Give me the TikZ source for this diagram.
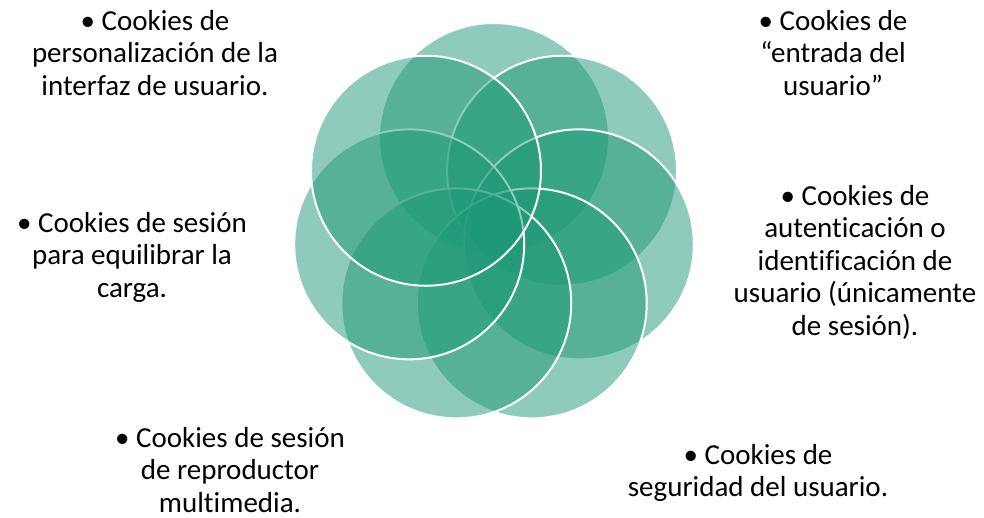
\documentclass[tikz,border=0pt]{standalone}
\usepackage{fontspec}
\setmainfont[Ligatures=NoCommon]{Carlito}
\usetikzlibrary{calc}
\definecolor{petal}{RGB}{30,152,118}
\tikzset{
  petal/.style={circle, minimum size=230pt, inner sep=0pt, fill=petal, fill opacity=0.5, draw=white, draw opacity=1, line width=2pt},
  lbl/.style={align=center, inner sep=0pt, text=black, font=\fontsize{29}{32.5}\selectfont}
}
\begin{document}
\begin{tikzpicture}[x=1pt,y=-1pt]
\useasboundingbox (0,0) rectangle (984,518);
\coordinate (ctr) at (494,225);
\foreach \ang [count=\i] in {90,38.571,-12.857,-64.286,-115.714,-167.143,141.429}{
  \node[petal] (c\i) at ($(ctr)+(\ang:87pt)$) {};
}
\node[lbl] (l1) at (155,53) {• Cookies de\\personalización de la\\interfaz de usuario.};
\node[lbl] (l2) at (833,53) {• Cookies de\\“entrada del\\usuario”};
\node[lbl] (l3) at (855,262) {• Cookies de\\autenticación o\\identificación de\\usuario (únicamente\\de sesión).};
\node[lbl] (l4) at (132,257) {• Cookies de sesión\\para equilibrar la\\carga.};
\node[lbl] (l5) at (230,470) {• Cookies de sesión\\de reproductor\\multimedia.};
\node[lbl] (l6) at (758,473) {• Cookies de\\seguridad del usuario.};
\end{tikzpicture}
\end{document}
